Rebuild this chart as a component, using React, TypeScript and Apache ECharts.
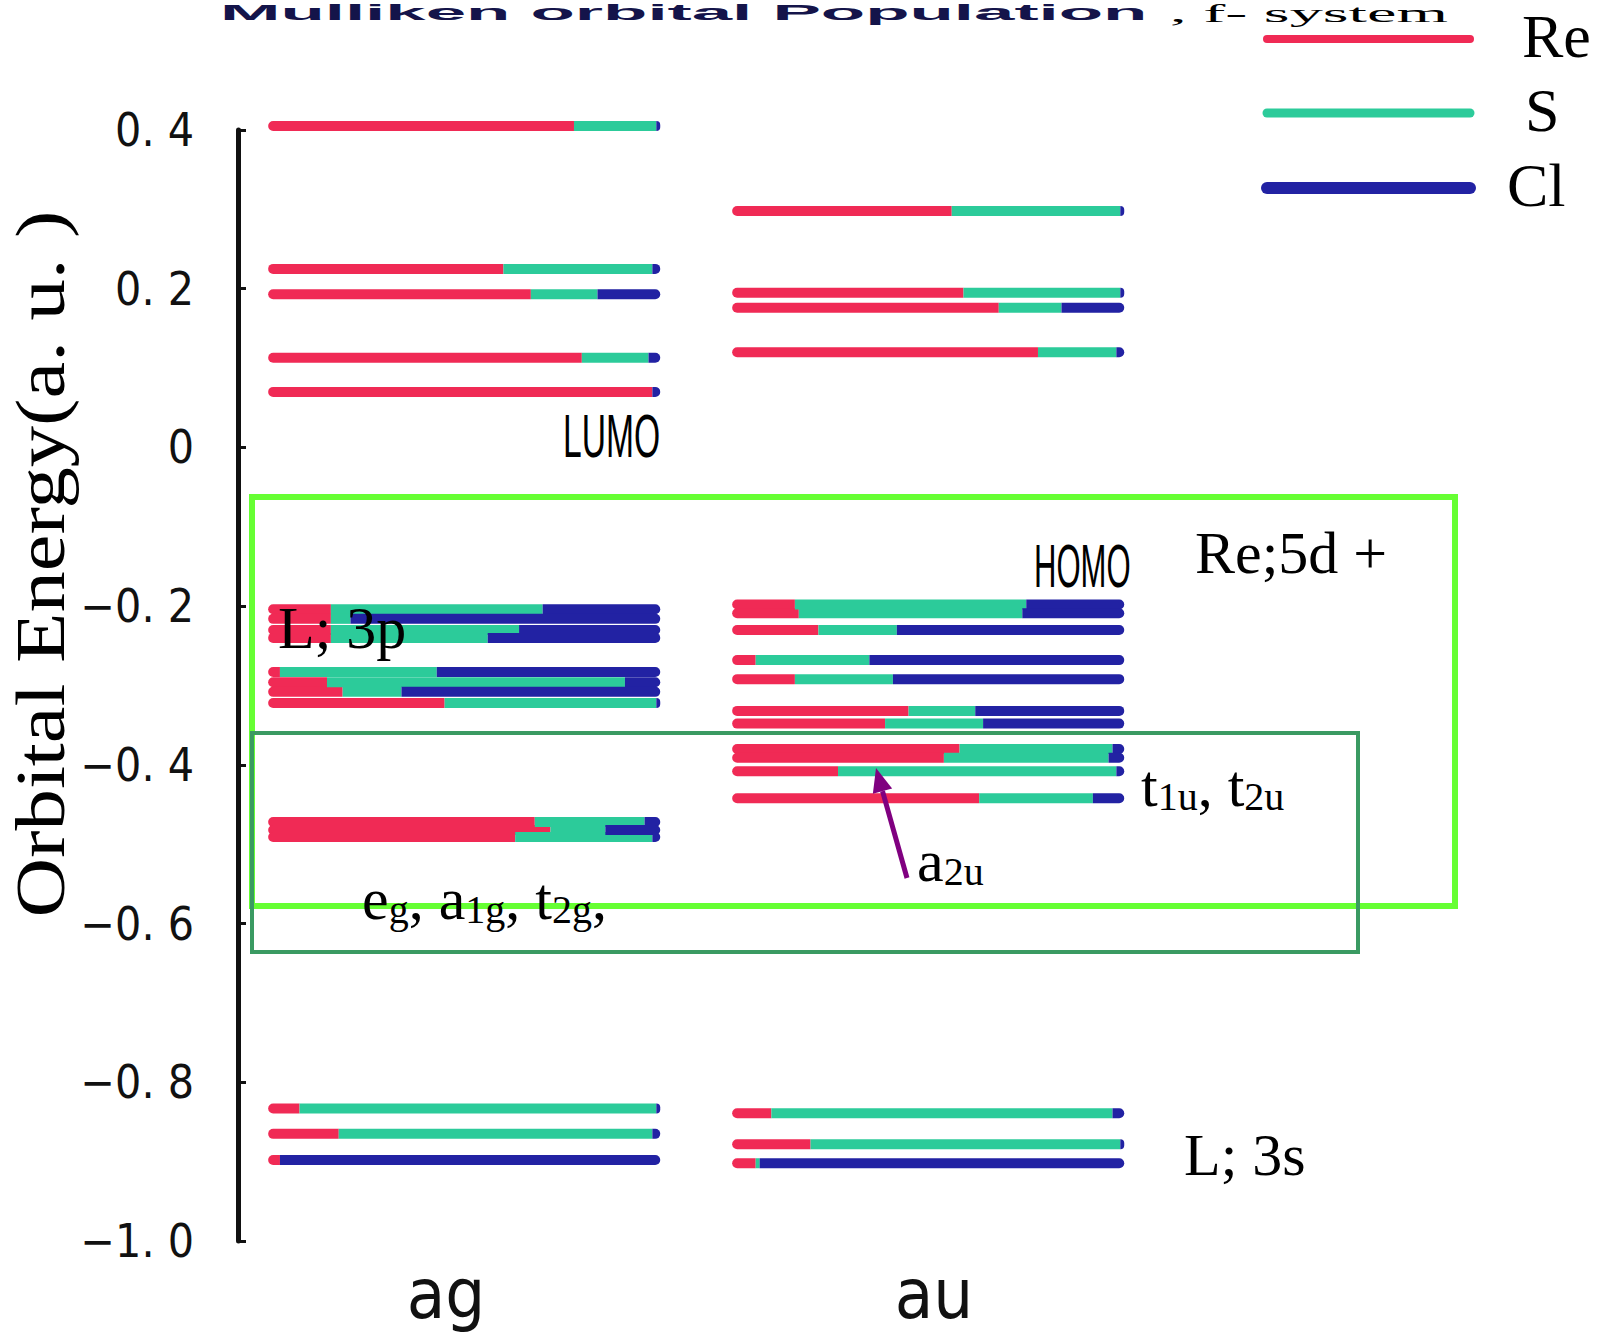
import React, { useEffect, useRef } from 'react';
import * as echarts from 'echarts';

// ---------- data ----------
const categories = ['ag', 'au'];
const elementNames = ['Re', 'S', 'Cl'];
const elementColors = ['#f02a55', '#2ccb9a', '#2222a3'];

const yTickValues = [-1.0, -0.8, -0.6, -0.4, -0.2, 0, 0.2, 0.4];
const yTickLabels = ['−1. 0', '−0. 8', '−0. 6', '−0. 4', '−0. 2', '0', '0. 2', '0. 4'];

// ag levels (orbital energy, a.u.) and Mulliken fractions
const agEnergy = [0.405, 0.225, 0.193, 0.113, 0.07, -0.204, -0.216, -0.23, -0.24, -0.283, -0.296, -0.308, -0.322, -0.472, -0.482, -0.491, -0.833, -0.865, -0.898];
const agRe = [0.78, 0.6, 0.67, 0.8, 0.98, 0.16, 0.16, 0.16, 0.16, 0.03, 0.15, 0.19, 0.45, 0.68, 0.72, 0.63, 0.08, 0.18, 0.03];
const agS = [0.21, 0.38, 0.17, 0.17, 0.0, 0.54, 0.05, 0.48, 0.4, 0.4, 0.76, 0.15, 0.54, 0.28, 0.14, 0.35, 0.91, 0.8, 0.0];
const agCl = [0.01, 0.02, 0.16, 0.03, 0.02, 0.3, 0.79, 0.36, 0.44, 0.57, 0.09, 0.66, 0.01, 0.04, 0.14, 0.02, 0.01, 0.02, 0.97];

// au levels
const auEnergy = [0.298, 0.195, 0.176, 0.12, -0.198, -0.209, -0.23, -0.268, -0.292, -0.332, -0.348, -0.38, -0.391, -0.408, -0.442, -0.839, -0.878, -0.902];
const auRe = [0.56, 0.59, 0.68, 0.78, 0.16, 0.17, 0.22, 0.06, 0.16, 0.45, 0.39, 0.58, 0.54, 0.27, 0.63, 0.1, 0.2, 0.06];
const auS = [0.43, 0.4, 0.16, 0.2, 0.59, 0.57, 0.2, 0.29, 0.25, 0.17, 0.25, 0.39, 0.42, 0.71, 0.29, 0.87, 0.79, 0.01];
const auCl = [0.01, 0.01, 0.16, 0.02, 0.25, 0.26, 0.58, 0.65, 0.59, 0.38, 0.36, 0.03, 0.04, 0.02, 0.08, 0.03, 0.01, 0.93];

// ---------- layout / style constants ----------
const BAR_START = 0.065;
const BAR_SPAN = 0.845;
const BAR_H = 10;
const GOTHIC = '"Liberation Sans Narrow", "DejaVu Sans Condensed", "Liberation Sans", sans-serif';
const SERIF = '"Liberation Serif", "DejaVu Serif", serif';

function buildSegments(): number[][][] {
  const out: number[][][] = [[], [], []];
  const cols = [
    { e: agEnergy, f: [agRe, agS, agCl] },
    { e: auEnergy, f: [auRe, auS, auCl] },
  ];
  cols.forEach((col, ci) => {
    col.e.forEach((en, i) => {
      let cum = 0;
      for (let k = 0; k < 3; k++) {
        const fr = col.f[k][i];
        const s = ci + BAR_START + BAR_SPAN * cum;
        const e = ci + BAR_START + BAR_SPAN * (cum + fr);
        out[k].push([s, e, en]);
        cum += fr;
      }
    });
  });
  return out;
}

function subText(parts: string, x: number, y: number) {
  return {
    type: 'text',
    x,
    y,
    z: 100,
    style: {
      text: parts,
      align: 'left',
      verticalAlign: 'middle',
      fill: '#000',
      rich: {
        m: { fontSize: 60, fontFamily: SERIF, lineHeight: 60, verticalAlign: 'middle', fill: '#000' },
        s: { fontSize: 40, fontFamily: SERIF, lineHeight: 20, verticalAlign: 'bottom', fill: '#000' },
      },
    },
  };
}

function plainText(text: string, x: number, y: number, extra: any = {}, style: any = {}) {
  return {
    type: 'text',
    x,
    y,
    z: 100,
    ...extra,
    style: {
      text,
      fontSize: 60,
      fontFamily: SERIF,
      fill: '#000',
      align: 'left',
      verticalAlign: 'middle',
      ...style,
    },
  };
}

export default function App() {
  const ref = useRef<HTMLDivElement>(null);

  useEffect(() => {
    if (!ref.current) return;
    const chart = echarts.init(ref.current, null, { renderer: 'svg' });
    const segs = buildSegments();

    const series = elementNames.map((name, k) => ({
      name,
      type: 'custom',
      xAxisIndex: 0,
      yAxisIndex: 0,
      encode: { x: [0, 1], y: 2 },
      data: segs[k],
      z: 2 + k,
      renderItem: (params: any, api: any) => {
        const a = api.coord([api.value(0), api.value(2)]);
        const b = api.coord([api.value(1), api.value(2)]);
        const w = b[0] - a[0];
        if (!(w > 0.5)) return { type: 'group', children: [] };
        const r = k === 0 ? [BAR_H / 2, 0, 0, BAR_H / 2] : k === 2 ? [0, BAR_H / 2, BAR_H / 2, 0] : 0;
        return {
          type: 'rect',
          shape: { x: a[0], y: a[1] - BAR_H / 2, width: w, height: BAR_H, r },
          style: { fill: elementColors[k] },
        };
      },
    }));

    // arrow geometry (a2u pointer)
    const tail = [907, 878];
    const tip = [876, 768];
    const dx = tip[0] - tail[0];
    const dy = tip[1] - tail[1];
    const len = Math.sqrt(dx * dx + dy * dy);
    const ux = dx / len;
    const uy = dy / len;
    const hl = 24;
    const hw = 10;
    const bx = tip[0] - hl * ux;
    const by = tip[1] - hl * uy;
    const nx = -uy;
    const ny = ux;

    const legendY = [39, 113, 188];
    const legendW = [8, 9, 12];
    const legendLabelX = [1522, 1525, 1507];

    const graphicElements: any[] = [
      // title (the reference shows it clipped at the top edge; kept fully visible here)
      plainText('Mulliken orbital Population', 220, 1, { scaleX: 3.3 }, { fontSize: 22, fontFamily: '"Liberation Sans", sans-serif', fontWeight: 'bold', fill: '#14144a', verticalAlign: 'top' }),
      plainText(', f- system', 1170, 0, { scaleX: 2.55 }, { fontSize: 26, verticalAlign: 'top' }),
      // y axis name
      plainText('Orbital Energy(a. u. )', 41, 564, { rotation: Math.PI / 2, scaleX: 1.18 }, { fontSize: 70, align: 'center' }),
      // boxes
      { type: 'rect', z: 90, shape: { x: 252, y: 497, width: 1203, height: 409 }, style: { fill: 'none', stroke: '#66ff33', lineWidth: 6 } },
      { type: 'rect', z: 91, shape: { x: 252, y: 733, width: 1106, height: 219 }, style: { fill: 'none', stroke: '#3a9a62', lineWidth: 4 } },
      // LUMO / HOMO
      plainText('LUMO', 563, 435, { scaleX: 0.8, scaleY: 1.45 }, { fontSize: 42, fontFamily: '"Liberation Sans", sans-serif' }),
      plainText('HOMO', 1034, 566, { scaleX: 0.74, scaleY: 1.45 }, { fontSize: 42, fontFamily: '"Liberation Sans", sans-serif' }),
      // annotations
      plainText('Re;5d +', 1195, 553),
      plainText('L; 3p', 278, 628),
      plainText('L; 3s', 1184, 1155),
      subText('{m|e}{s|g}{m|, a}{s|1g}{m|, t}{s|2g}{m|,}', 362, 899),
      subText('{m|t}{s|1u}{m|, t}{s|2u}', 1141, 786),
      subText('{m|a}{s|2u}', 917, 861),
      // arrow
      { type: 'line', z: 100, shape: { x1: tail[0], y1: tail[1], x2: bx, y2: by }, style: { stroke: '#800080', lineWidth: 5 } },
      {
        type: 'polygon',
        z: 100,
        shape: { points: [[tip[0], tip[1]], [bx + hw * nx, by + hw * ny], [bx - hw * nx, by - hw * ny]] },
        style: { fill: '#800080' },
      },
    ];

    elementNames.forEach((name, k) => {
      graphicElements.push({
        type: 'line',
        z: 100,
        shape: { x1: 1267, y1: legendY[k], x2: 1470, y2: legendY[k] },
        style: { stroke: elementColors[k], lineWidth: legendW[k], lineCap: 'round' },
      });
      graphicElements.push(plainText(name, legendLabelX[k], legendY[k] - 3, {}, { fontSize: 62 }));
    });

    const option: any = {
      animation: false,
      backgroundColor: '#ffffff',
      tooltip: { show: false },
      grid: { left: 238, right: 435, top: 130, bottom: 96 },
      xAxis: [
        { type: 'value', min: 0, max: 2, show: false },
        {
          type: 'category',
          data: categories,
          position: 'bottom',
          boundaryGap: true,
          axisLine: { show: false },
          axisTick: { show: false },
          splitLine: { show: false },
          axisLabel: {
            color: '#111',
            margin: 18,
            formatter: (v: string) => (v === categories[0] ? '{a|' + v + '}' : '{b|' + v + '}'),
            rich: {
              a: { fontSize: 70, fontFamily: GOTHIC, color: '#111', padding: [0, 48, 0, 0] },
              b: { fontSize: 70, fontFamily: GOTHIC, color: '#111' },
            },
          },
        },
      ],
      yAxis: {
        type: 'value',
        min: -1.0,
        max: 0.4,
        interval: 0.2,
        axisLine: { show: true, lineStyle: { color: '#111', width: 5 } },
        axisTick: { show: true, inside: true, length: 8, lineStyle: { color: '#111', width: 3 } },
        splitLine: { show: false },
        axisLabel: {
          fontSize: 46,
          color: '#111',
          margin: 44,
          fontFamily: GOTHIC,
          formatter: (v: number) => {
            const idx = yTickValues.findIndex((t) => Math.abs(t - v) < 1e-6);
            return idx >= 0 ? yTickLabels[idx] : '';
          },
        },
      },
      series,
      graphic: { elements: graphicElements },
    };

    chart.setOption(option);
    return () => chart.dispose();
  }, []);

  return (
    <div
      ref={ref}
      style={{ position: 'absolute', left: 0, top: 0, width: 1601, height: 1337, background: '#fff' }}
    />
  );
}
